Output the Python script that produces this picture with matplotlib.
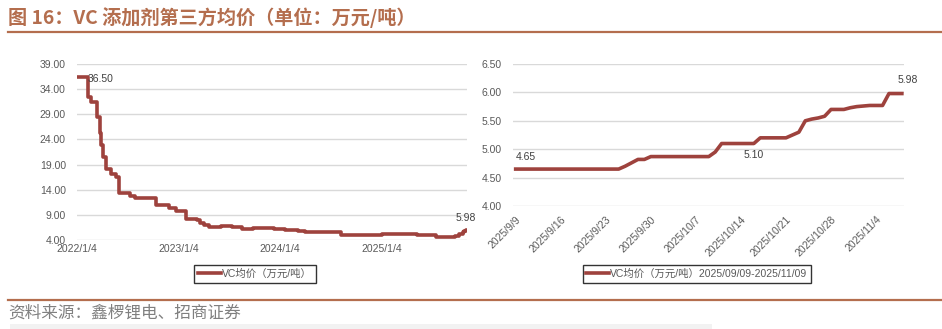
import numpy as np
import pandas as pd
import matplotlib
matplotlib.use("Agg")
import matplotlib.pyplot as plt
from matplotlib.patches import Rectangle
from matplotlib.lines import Line2D

plt.rcParams["font.family"] = ["Liberation Sans", "Noto Sans CJK SC", "DejaVu Sans"]

# 左图：VC 均价（万元/吨），阶梯变化点
long_dates = [
    "2022-01-04", "2022-02-12", "2022-02-24", "2022-03-17", "2022-03-26",
    "2022-04-01", "2022-04-07", "2022-04-18", "2022-05-05", "2022-05-23",
    "2022-06-04", "2022-07-13", "2022-07-31", "2022-10-17", "2022-12-01",
    "2022-12-28", "2023-02-01", "2023-03-11", "2023-03-24", "2023-04-07",
    "2023-04-25", "2023-06-06", "2023-07-15", "2023-08-20", "2023-10-01",
    "2023-12-14", "2024-01-24", "2024-03-10", "2024-04-05", "2024-08-13",
    "2025-01-05", "2025-05-11", "2025-07-19", "2025-09-26", "2025-10-01",
    "2025-10-11", "2025-10-17", "2025-10-24", "2025-10-28", "2025-11-06",
    "2025-11-08",
]
long_values = [
    36.5, 32.5, 31.5, 28.5, 25.2,
    22.9, 20.6, 18.1, 17.1, 16.6,
    13.4, 12.8, 12.3, 10.9, 10.3,
    9.8, 8.2, 7.9, 7.3, 6.9,
    6.6, 6.8, 6.5, 6.1, 6.4,
    6.1, 5.9, 5.7, 5.5, 5.0,
    5.2, 4.9, 4.65, 4.7, 4.87,
    5.1, 5.2, 5.5, 5.7, 5.98,
    5.98,
]
long_ticks = ["2022-01-04", "2023-01-04", "2024-01-04", "2025-01-04"]
long_yticks = [4, 9, 14, 19, 24, 29, 34, 39]

# 右图：2025/09/09-2025/11/08 日度
short_start = "2025-09-09"
short_values = (
    [4.65] * 17
    + [4.70, 4.76, 4.82, 4.82, 4.87]
    + [4.87] * 9
    + [4.95, 5.10]
    + [5.10] * 5
    + [5.20]
    + [5.20] * 4
    + [5.25, 5.30, 5.50, 5.53, 5.55, 5.58, 5.70, 5.70, 5.70,
       5.73, 5.75, 5.76, 5.77, 5.77, 5.77, 5.98, 5.98, 5.98]
)
short_yticks = [4.0, 4.5, 5.0, 5.5, 6.0, 6.5]

line_color = "#9E423D"
brand = "#B46E4E"
grid_color = "#D9D9D9"
tick_color = "#595959"

fig = plt.figure(figsize=(9.42, 3.29), dpi=100)
W, H = 942, 329


def fx(px):
    return px / W


def fy(py):
    return 1 - py / H


def style_axes(ax):
    for s in ax.spines.values():
        s.set_visible(False)
    ax.grid(axis="y", color=grid_color, linewidth=1)
    ax.set_axisbelow(True)
    ax.tick_params(length=0, labelsize=7.5, colors=tick_color)
    ax.tick_params(axis="y", pad=8)


# 左图
ax1 = fig.add_axes([fx(77), fy(240), fx(467 - 77), (240 - 64) / H])
style_axes(ax1)
ld = pd.to_datetime(long_dates)
ax1.plot(ld, long_values, drawstyle="steps-post", color=line_color, linewidth=2.6)
ax1.set_xlim(ld[0], ld[-1])
ax1.set_ylim(4, 39)
ax1.set_yticks(long_yticks)
ax1.set_yticklabels([f"{v:.2f}" for v in long_yticks])
lt = pd.to_datetime(long_ticks)
ax1.set_xticks(lt)
ax1.set_xticklabels([f"{d.year}/{d.month}/{d.day}" for d in lt])
ax1.tick_params(axis="x", pad=3)
ax1.annotate("36.50", xy=(ld[1], long_values[0]), xytext=(0, -2),
             textcoords="offset points", ha="left", va="center",
             fontsize=7.5, color="#404040")
ax1.annotate(f"{long_values[-1]:.2f}", xy=(ld[-1], long_values[-1]), xytext=(-1, 5),
             textcoords="offset points", ha="center", va="bottom",
             fontsize=7.5, color="#404040")

# 右图
ax2 = fig.add_axes([fx(513), fy(206), fx(904 - 513), (206 - 64) / H])
style_axes(ax2)
sd = pd.date_range(short_start, periods=len(short_values), freq="D")
ax2.plot(sd, short_values, color=line_color, linewidth=2.6)
ax2.set_xlim(sd[0] - pd.Timedelta(hours=10), sd[-1] + pd.Timedelta(hours=8))
ax2.set_ylim(4.0, 6.5)
ax2.set_yticks(short_yticks)
ax2.set_yticklabels([f"{v:.2f}" for v in short_yticks])
st = sd[::7]
ax2.set_xticks(st)
ax2.set_xticklabels([f"{d.year}/{d.month}/{d.day}" for d in st],
                    rotation=45, ha="right", va="top", rotation_mode="anchor")
ax2.tick_params(axis="x", pad=6)
ax2.annotate("4.65", xy=(sd[0], short_values[0]), xytext=(0, 5),
             textcoords="offset points", ha="left", va="bottom",
             fontsize=7.5, color="#404040")
ax2.annotate("5.10", xy=(sd[37], short_values[37]), xytext=(0, -5),
             textcoords="offset points", ha="center", va="top",
             fontsize=7.5, color="#404040")
ax2.annotate(f"{short_values[-1]:.2f}", xy=(sd[-1], short_values[-1]), xytext=(4, 6),
             textcoords="offset points", ha="center", va="bottom",
             fontsize=7.5, color="#404040")

# 图例
h = [Line2D([], [], color=line_color, linewidth=2.6)]
leg1 = fig.legend(h, ["VC均价（万元/吨）"], loc="center",
                  bbox_to_anchor=(fx(255), fy(274)), fontsize=7.5,
                  frameon=True, fancybox=False, edgecolor="black",
                  handlelength=2.2, handletextpad=0.1, borderpad=0.35)
leg1.get_frame().set_linewidth(1)
leg2 = fig.legend(h, ["VC均价（万元/吨）2025/09/09-2025/11/09"], loc="center",
                  bbox_to_anchor=(fx(697), fy(274)), fontsize=7.5,
                  frameon=True, fancybox=False, edgecolor="black",
                  handlelength=2.2, handletextpad=0.1, borderpad=0.35)
leg2.get_frame().set_linewidth(1)
for leg in (leg1, leg2):
    for t in leg.get_texts():
        t.set_color(tick_color)

# 标题、分隔线、来源
fig.text(fx(8), fy(18), "图 16：VC 添加剂第三方均价（单位：万元/吨）",
         fontsize=13.8, fontweight="bold", color=brand, va="center", ha="left",
         family=["Noto Sans CJK SC", "DejaVu Sans"])
fig.add_artist(Line2D([fx(8), 1], [fy(32), fy(32)], color=brand, linewidth=1.6))
fig.add_artist(Line2D([fx(8), 1], [fy(300), fy(300)], color=brand, linewidth=1.6))
fig.text(fx(8), fy(313), "资料来源：鑫椤锂电、招商证券", fontsize=12,
         color="#808080", va="center", ha="left",
         family=["Noto Sans CJK SC", "DejaVu Sans"])
fig.add_artist(Rectangle((fx(10), 0), fx(712 - 10), 5 / H,
                         transform=fig.transFigure, color="#F2F2F2", linewidth=0))

fig.savefig("out.png", dpi=100)
plt.close(fig)
